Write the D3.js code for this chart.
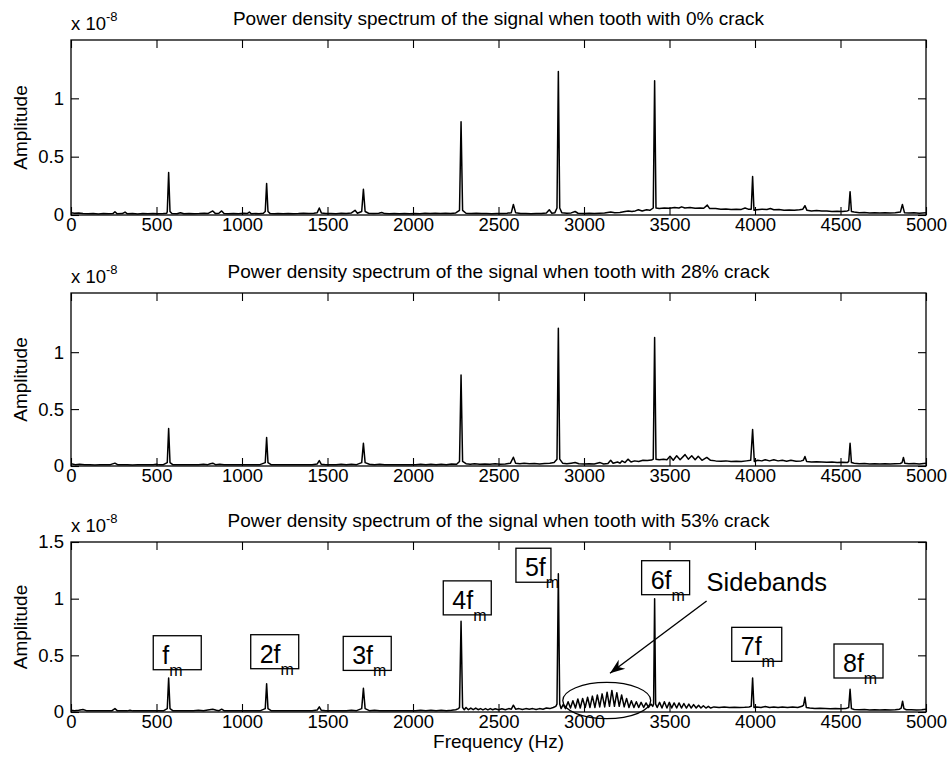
<!DOCTYPE html>
<html>
<head>
<meta charset="utf-8">
<script src="https://cdn.jsdelivr.net/npm/d3@7"></script>
<style>
  body { margin: 0; background: #fff; }
  text { font-family: "Liberation Sans", Arial, Helvetica, sans-serif; fill: #000; }
</style>
</head>
<body>
<svg id="fig" width="951" height="763"></svg>
<script>
// ---- data -------------------------------------------------------------
const freqTicks = [0, 500, 1000, 1500, 2000, 2500, 3000, 3500, 4000, 4500, 5000];
const ampTicksUpper = [0, 0.5, 1];
const ampTicksLower = [0, 0.5, 1, 1.5];

const panelTitles = [
  "Power density spectrum of the signal when tooth with 0% crack",
  "Power density spectrum of the signal when tooth with 28% crack",
  "Power density spectrum of the signal when tooth with 53% crack"
];

// [frequency (Hz), amplitude (x 1e-8)]
const spectrumCrack0 = [
  [0,0.02],[20,0.015],[45,0.018],[70,0.012],[100,0.01],[130,0.012],[160,0.008],[190,0.012],[220,0.01],[245,0.012],
  [257,0.028],[270,0.01],[300,0.012],[316,0.025],[330,0.01],[360,0.012],[390,0.008],[420,0.012],[450,0.01],[480,0.012],
  [510,0.01],[540,0.012],[560,0.015],[563,0.03],[571,0.365],[579,0.03],[590,0.012],[620,0.01],[640,0.02],[660,0.01],
  [690,0.012],[720,0.01],[750,0.012],[780,0.015],[800,0.012],[829,0.035],[845,0.012],[865,0.015],[881,0.035],[895,0.012],
  [920,0.01],[950,0.012],[980,0.01],[1010,0.015],[1030,0.012],[1043,0.025],[1055,0.01],[1080,0.012],[1100,0.01],[1125,0.015],
  [1136,0.03],[1144,0.27],[1152,0.03],[1165,0.012],[1190,0.01],[1210,0.012],[1240,0.01],[1270,0.012],[1300,0.01],[1330,0.012],
  [1360,0.015],[1390,0.012],[1420,0.015],[1440,0.02],[1452,0.06],[1464,0.018],[1490,0.012],[1520,0.012],[1550,0.01],[1580,0.015],
  [1610,0.012],[1640,0.018],[1661,0.04],[1675,0.015],[1700,0.03],[1710,0.22],[1720,0.03],[1740,0.015],[1770,0.012],[1800,0.015],
  [1817,0.022],[1835,0.012],[1860,0.01],[1890,0.012],[1920,0.01],[1950,0.012],[1980,0.01],[2010,0.012],[2040,0.01],[2070,0.015],
  [2100,0.012],[2130,0.015],[2160,0.012],[2190,0.015],[2220,0.012],[2250,0.018],[2272,0.04],[2281,0.8],[2290,0.04],[2310,0.015],
  [2340,0.012],[2370,0.015],[2400,0.012],[2430,0.012],[2460,0.01],[2490,0.012],[2520,0.012],[2550,0.015],[2575,0.02],[2587,0.09],
  [2600,0.02],[2630,0.012],[2660,0.012],[2690,0.01],[2720,0.012],[2750,0.012],[2780,0.018],[2797,0.045],[2812,0.015],[2830,0.02],
  [2842,0.06],[2850,1.23],[2858,0.06],[2870,0.02],[2900,0.015],[2925,0.018],[2948,0.03],[2965,0.015],[3000,0.012],[3030,0.015],
  [3060,0.012],[3090,0.015],[3120,0.018],[3156,0.025],[3180,0.02],[3210,0.022],[3240,0.03],[3259,0.035],[3280,0.03],[3300,0.035],
  [3318,0.045],[3340,0.035],[3366,0.045],[3385,0.04],[3405,0.06],[3413,1.15],[3421,0.06],[3440,0.055],[3470,0.06],[3500,0.058],
  [3530,0.065],[3555,0.06],[3571,0.07],[3590,0.06],[3620,0.065],[3650,0.058],[3680,0.06],[3700,0.058],[3721,0.085],[3735,0.055],
  [3770,0.055],[3800,0.05],[3830,0.052],[3860,0.048],[3890,0.05],[3920,0.048],[3942,0.06],[3960,0.05],[3978,0.05],[3986,0.33],
  [3994,0.04],[4010,0.045],[4040,0.05],[4070,0.048],[4090,0.055],[4110,0.045],[4140,0.048],[4170,0.04],[4200,0.042],[4230,0.04],
  [4260,0.045],[4280,0.05],[4292,0.08],[4304,0.04],[4330,0.035],[4360,0.038],[4390,0.035],[4420,0.035],[4450,0.03],[4480,0.032],
  [4510,0.03],[4540,0.035],[4548,0.04],[4556,0.2],[4564,0.03],[4580,0.025],[4610,0.02],[4640,0.022],[4670,0.018],[4700,0.02],
  [4730,0.018],[4760,0.02],[4790,0.018],[4820,0.02],[4850,0.025],[4862,0.09],[4874,0.02],[4900,0.018],[4930,0.02],[4960,0.015],
  [5000,0.02]
];

const spectrumCrack28 = [
  [0,0.02],[25,0.012],[50,0.015],[80,0.01],[110,0.012],[140,0.008],[170,0.01],[200,0.01],[230,0.012],[257,0.025],
  [275,0.01],[300,0.012],[330,0.01],[360,0.008],[390,0.01],[420,0.012],[450,0.01],[480,0.012],[500,0.015],[515,0.01],
  [540,0.012],[563,0.03],[571,0.33],[579,0.03],[595,0.012],[625,0.01],[655,0.012],[685,0.01],[715,0.012],[745,0.01],
  [775,0.015],[800,0.012],[815,0.02],[829,0.025],[845,0.012],[870,0.015],[895,0.01],[925,0.012],[955,0.01],[985,0.012],
  [1015,0.01],[1045,0.012],[1075,0.01],[1105,0.012],[1136,0.03],[1144,0.25],[1152,0.03],[1170,0.012],[1200,0.01],[1230,0.012],
  [1260,0.01],[1290,0.012],[1320,0.01],[1350,0.012],[1380,0.01],[1410,0.012],[1440,0.018],[1452,0.047],[1464,0.015],[1490,0.012],
  [1520,0.01],[1550,0.012],[1580,0.015],[1610,0.012],[1640,0.015],[1670,0.012],[1700,0.03],[1710,0.2],[1720,0.03],[1745,0.015],
  [1775,0.012],[1805,0.015],[1835,0.012],[1865,0.01],[1895,0.012],[1925,0.01],[1955,0.012],[1985,0.01],[2015,0.012],[2045,0.015],
  [2075,0.012],[2105,0.015],[2135,0.012],[2165,0.015],[2195,0.012],[2225,0.018],[2255,0.015],[2272,0.04],[2281,0.8],[2290,0.04],
  [2310,0.02],[2335,0.015],[2360,0.02],[2390,0.015],[2420,0.018],[2450,0.015],[2480,0.02],[2510,0.015],[2540,0.018],[2570,0.025],
  [2587,0.077],[2600,0.025],[2625,0.02],[2650,0.025],[2680,0.02],[2710,0.022],[2740,0.018],[2770,0.022],[2800,0.025],[2825,0.03],
  [2842,0.06],[2850,1.21],[2858,0.06],[2875,0.025],[2900,0.02],[2925,0.025],[2948,0.03],[2970,0.02],[3000,0.018],[3030,0.02],
  [3060,0.018],[3094,0.03],[3115,0.018],[3140,0.022],[3156,0.05],[3170,0.025],[3196,0.035],[3210,0.025],[3222,0.045],[3240,0.03],
  [3257,0.06],[3275,0.035],[3296,0.045],[3320,0.04],[3345,0.05],[3370,0.048],[3395,0.052],[3405,0.06],[3413,1.13],[3421,0.06],
  [3440,0.055],[3465,0.06],[3485,0.055],[3503,0.085],[3522,0.05],[3542,0.09],[3562,0.055],[3591,0.1],[3610,0.06],[3630,0.09],
  [3650,0.055],[3668,0.085],[3690,0.05],[3718,0.075],[3740,0.05],[3770,0.045],[3800,0.042],[3830,0.045],[3860,0.04],[3890,0.042],
  [3920,0.04],[3950,0.045],[3975,0.05],[3986,0.32],[3996,0.04],[4015,0.05],[4040,0.045],[4060,0.055],[4085,0.045],[4110,0.055],
  [4135,0.045],[4160,0.05],[4185,0.042],[4210,0.05],[4240,0.042],[4270,0.045],[4283,0.05],[4292,0.083],[4302,0.04],[4330,0.035],
  [4360,0.038],[4390,0.035],[4420,0.032],[4450,0.035],[4480,0.03],[4510,0.032],[4540,0.03],[4548,0.04],[4556,0.2],[4564,0.03],
  [4580,0.025],[4610,0.02],[4640,0.022],[4670,0.018],[4700,0.02],[4730,0.018],[4760,0.02],[4790,0.018],[4820,0.02],[4850,0.022],
  [4860,0.03],[4868,0.075],[4876,0.025],[4900,0.02],[4930,0.022],[4960,0.018],[5000,0.025]
];

const spectrumCrack53 = [
  [0,0.015],[20,0.012],[45,0.015],[70,0.022],[90,0.012],[120,0.01],[150,0.012],[180,0.01],[210,0.012],[240,0.012],
  [257,0.03],[272,0.01],[300,0.012],[330,0.01],[345,0.015],[360,0.01],[390,0.012],[420,0.01],[450,0.012],[480,0.01],
  [510,0.012],[540,0.01],[563,0.03],[571,0.3],[579,0.03],[595,0.012],[625,0.01],[655,0.012],[685,0.01],[715,0.012],
  [745,0.015],[775,0.012],[800,0.018],[829,0.025],[850,0.015],[866,0.012],[881,0.025],[895,0.012],[925,0.01],[955,0.012],
  [985,0.01],[1015,0.012],[1045,0.01],[1075,0.012],[1105,0.01],[1136,0.03],[1144,0.25],[1152,0.03],[1170,0.012],[1200,0.01],
  [1230,0.012],[1260,0.01],[1290,0.012],[1320,0.01],[1350,0.012],[1380,0.01],[1410,0.012],[1440,0.018],[1452,0.045],[1464,0.015],
  [1490,0.012],[1520,0.01],[1550,0.012],[1580,0.01],[1610,0.012],[1640,0.015],[1670,0.012],[1700,0.03],[1710,0.21],[1720,0.03],
  [1745,0.012],[1775,0.015],[1805,0.012],[1835,0.01],[1865,0.012],[1895,0.01],[1925,0.012],[1955,0.01],[1985,0.012],[2015,0.01],
  [2045,0.015],[2075,0.012],[2105,0.015],[2135,0.012],[2165,0.015],[2195,0.012],[2225,0.015],[2250,0.02],[2266,0.03],[2272,0.04],
  [2281,0.8],[2290,0.04],[2300,0.02],[2310,0.04],[2324,0.02],[2338,0.035],[2352,0.02],[2367,0.035],[2381,0.02],[2395,0.03],
  [2409,0.018],[2424,0.03],[2438,0.018],[2452,0.03],[2466,0.02],[2481,0.028],[2500,0.02],[2520,0.028],[2540,0.02],[2560,0.03],
  [2575,0.025],[2587,0.06],[2600,0.025],[2620,0.03],[2640,0.022],[2660,0.03],[2680,0.025],[2700,0.03],[2720,0.022],[2740,0.03],
  [2760,0.025],[2780,0.035],[2800,0.03],[2820,0.04],[2835,0.05],[2842,0.07],[2850,1.22],[2858,0.07],[2866,0.03],[2878,0.065],
  [2892,0.03],[2907,0.09],[2921,0.035],[2935,0.1],[2950,0.035],[2964,0.115],[2978,0.035],[2992,0.12],[3007,0.04],[3021,0.13],
  [3035,0.04],[3049,0.14],[3064,0.04],[3078,0.15],[3092,0.045],[3106,0.16],[3121,0.045],[3135,0.175],[3149,0.05],[3163,0.19],
  [3178,0.05],[3192,0.17],[3206,0.05],[3220,0.15],[3235,0.045],[3249,0.12],[3263,0.04],[3277,0.1],[3292,0.04],[3306,0.09],
  [3320,0.04],[3334,0.085],[3349,0.04],[3363,0.08],[3377,0.04],[3391,0.07],[3402,0.05],[3407,0.07],[3413,1.0],[3419,0.07],
  [3428,0.04],[3442,0.085],[3456,0.035],[3470,0.09],[3485,0.035],[3499,0.085],[3513,0.035],[3527,0.08],[3542,0.035],[3556,0.08],
  [3570,0.035],[3584,0.075],[3599,0.035],[3613,0.07],[3627,0.035],[3641,0.065],[3656,0.035],[3670,0.06],[3684,0.035],[3698,0.055],
  [3713,0.035],[3727,0.05],[3741,0.035],[3760,0.045],[3790,0.04],[3820,0.045],[3850,0.04],[3880,0.042],[3910,0.04],[3940,0.042],
  [3965,0.045],[3978,0.05],[3986,0.3],[3994,0.04],[4010,0.045],[4035,0.04],[4060,0.048],[4085,0.04],[4110,0.045],[4135,0.04],
  [4160,0.045],[4190,0.04],[4220,0.045],[4250,0.04],[4275,0.05],[4284,0.06],[4292,0.13],[4300,0.04],[4320,0.035],[4350,0.03],
  [4380,0.032],[4410,0.03],[4440,0.028],[4470,0.03],[4500,0.028],[4530,0.03],[4548,0.04],[4556,0.2],[4564,0.03],[4580,0.022],
  [4610,0.02],[4640,0.022],[4670,0.018],[4700,0.02],[4730,0.018],[4760,0.02],[4790,0.018],[4820,0.02],[4845,0.025],[4855,0.035],
  [4863,0.095],[4871,0.03],[4885,0.02],[4915,0.02],[4945,0.018],[4975,0.02],[5000,0.025]
];

// Harmonic labels of the mesh frequency (53% crack panel)
const harmonicNames = ["f", "2f", "3f", "4f", "5f", "6f", "7f", "8f"];
const harmonicBoxFreq = [481, 1051, 1592, 2177, 2602, 3337, 3864, 4462];   // box left edge, Hz
const harmonicBoxAmp = [0.673, 0.682, 0.667, 1.157, 1.445, 1.335, 0.747, 0.60]; // box top edge
const harmonicBoxWidth = [48, 48, 48, 48, 35, 48, 50, 49];

// ---- layout -----------------------------------------------------------
const svg = d3.select("#fig");
const plotLeft = 71, plotRight = 926;
const panels = [
  { top: 40,  bottom: 215, yMax: 1.5,  yTicks: ampTicksUpper, data: spectrumCrack0,  title: panelTitles[0] },
  { top: 293, bottom: 466, yMax: 1.52, yTicks: ampTicksUpper, data: spectrumCrack28, title: panelTitles[1] },
  { top: 542, bottom: 712, yMax: 1.5,  yTicks: ampTicksLower, data: spectrumCrack53, title: panelTitles[2] }
];
const tickLen = 8;
const fs = 18.5;

const x = d3.scaleLinear().domain([0, 5000]).range([plotLeft, plotRight]);

panels.forEach((p, i) => {
  const y = d3.scaleLinear().domain([0, p.yMax]).range([p.bottom, p.top]);
  p.y = y;
  const g = svg.append("g");

  // spectrum trace
  const line = d3.line().x(d => x(d[0])).y(d => y(d[1]));
  g.append("path")
    .datum(p.data)
    .attr("d", line)
    .attr("fill", "none")
    .attr("stroke", "#000")
    .attr("stroke-width", 1.5)
    .attr("stroke-linejoin", "round");

  // axes with inward ticks on all four sides
  const fmt = d => String(d);
  const axB = g.append("g").attr("transform", `translate(0,${p.bottom})`)
    .call(d3.axisBottom(x).tickValues(freqTicks).tickFormat(fmt).tickSizeInner(-tickLen).tickSizeOuter(0).tickPadding(3));
  const axT = g.append("g").attr("transform", `translate(0,${p.top})`)
    .call(d3.axisTop(x).tickValues(freqTicks).tickFormat("").tickSizeInner(-tickLen).tickSizeOuter(0));
  const axL = g.append("g").attr("transform", `translate(${plotLeft},0)`)
    .call(d3.axisLeft(y).tickValues(p.yTicks).tickFormat(fmt).tickSizeInner(-tickLen).tickSizeOuter(0).tickPadding(7));
  const axR = g.append("g").attr("transform", `translate(${plotRight},0)`)
    .call(d3.axisRight(y).tickValues(p.yTicks).tickFormat("").tickSizeInner(-tickLen).tickSizeOuter(0));
  [axB, axT, axL, axR].forEach(a => {
    a.select(".domain").remove();
    a.selectAll("line").attr("stroke", "#000").attr("stroke-width", 1.1);
    a.selectAll("text").attr("font-size", fs).attr("font-family", null).attr("fill", "#000");
  });

  // frame
  g.append("rect")
    .attr("x", plotLeft).attr("y", p.top)
    .attr("width", plotRight - plotLeft).attr("height", p.bottom - p.top)
    .attr("fill", "none").attr("stroke", "#000").attr("stroke-width", 1.3);

  // title
  g.append("text")
    .attr("x", (plotLeft + plotRight) / 2).attr("y", p.top - 15)
    .attr("text-anchor", "middle").attr("font-size", 19)
    .text(p.title);

  // exponent
  const ex = g.append("text").attr("x", plotLeft).attr("y", p.top - 10).attr("font-size", fs);
  ex.append("tspan").text("x 10");
  ex.append("tspan").attr("dy", -9).attr("font-size", 13).text("-8");

  // y label
  g.append("text")
    .attr("transform", `translate(27,${(p.top + p.bottom) / 2}) rotate(-90)`)
    .attr("text-anchor", "middle").attr("font-size", 19)
    .text("Amplitude");
});

// x label
svg.append("text")
  .attr("x", (plotLeft + plotRight) / 2).attr("y", 748)
  .attr("text-anchor", "middle").attr("font-size", 19)
  .text("Frequency (Hz)");

// ---- annotations on the 53% crack panel ------------------------------
const pb = panels[2];
const yb = pb.y;
const ann = svg.append("g");
const boxH = 34;
harmonicNames.forEach((name, i) => {
  const bx = x(harmonicBoxFreq[i]), by = yb(harmonicBoxAmp[i]);
  ann.append("rect")
    .attr("x", bx).attr("y", by)
    .attr("width", harmonicBoxWidth[i]).attr("height", boxH)
    .attr("fill", "none").attr("stroke", "#000").attr("stroke-width", 1.3);
  const t = ann.append("text").attr("x", bx + 9).attr("y", by + 28).attr("font-size", 25);
  t.append("tspan").text(name);
  t.append("tspan").attr("dy", 12).attr("font-size", 16).text("m");
});

// sideband ellipse
const ellF = 3133, ellA = 0.101, ellRF = 257, ellRA = 0.16;
ann.append("ellipse")
  .attr("cx", x(ellF)).attr("cy", yb(ellA))
  .attr("rx", x(ellF + ellRF) - x(ellF)).attr("ry", yb(0) - yb(ellRA))
  .attr("fill", "none").attr("stroke", "#000").attr("stroke-width", 1.3);

// arrow
const a0 = [x(3717), yb(0.979)], a1 = [x(3152), yb(0.342)];
ann.append("line")
  .attr("x1", a0[0]).attr("y1", a0[1]).attr("x2", a1[0]).attr("y2", a1[1])
  .attr("stroke", "#000").attr("stroke-width", 1.4);
{
  const dx = a1[0] - a0[0], dy = a1[1] - a0[1], len = Math.hypot(dx, dy);
  const ux = dx / len, uy = dy / len, nx = -uy, ny = ux;
  const L = 15, W = 5.5;
  const pts = [
    [a1[0], a1[1]],
    [a1[0] - L * ux + W * nx, a1[1] - L * uy + W * ny],
    [a1[0] - 0.7 * L * ux, a1[1] - 0.7 * L * uy],
    [a1[0] - L * ux - W * nx, a1[1] - L * uy - W * ny]
  ];
  ann.append("path").attr("d", "M" + pts.map(q => q.join(",")).join("L") + "Z").attr("fill", "#000");
}

ann.append("text")
  .attr("x", x(3717)).attr("y", yb(1.068))
  .attr("font-size", 25.5)
  .text("Sidebands");
</script>
</body>
</html>
